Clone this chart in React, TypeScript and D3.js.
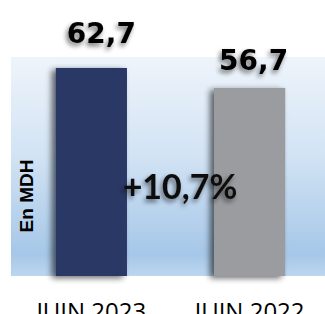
import React from 'react';
import * as d3 from 'd3';

const categories = ['JUIN 2023', 'JUIN 2022'];
const values = [62.7, 56.7];
const valueLabels = ['62,7', '56,7'];
const barColors = ['#2b3966', '#9b9ca0'];
const changeLabel = '+10,7%';
const axisTitle = 'En MDH';

const W = 325, H = 314;
const plotLeft = 11, plotRight = 325, plotTop = 57, plotBottom = 276;
// label nudges relative to bar center / bar top
const labelDx = [10, 4];
const labelGap = [25, 18];

const App = () => {
  const x = d3.scaleBand().domain(categories).range([13, 328]).paddingInner(0.55).paddingOuter(0.27);
  const y = d3.scaleLinear().domain([0, 66]).range([plotBottom, plotTop]);

  return (
    <svg width={W} height={H} style={{ position: 'absolute', left: 0, top: 0 }}>
      <defs>
        <linearGradient id="bg" x1="0" y1="0" x2="0" y2="1">
          <stop offset="0" stopColor="#eef4fb" />
          <stop offset="0.45" stopColor="#d2e3f4" />
          <stop offset="0.9" stopColor="#a6c7e8" />
          <stop offset="1" stopColor="#bcd6ef" />
        </linearGradient>
        <filter id="shadow" x="-30%" y="-30%" width="160%" height="160%">
          <feGaussianBlur in="SourceAlpha" stdDeviation="3" />
          <feOffset dx="-4" dy="2" result="b" />
          <feComponentTransfer><feFuncA type="linear" slope="0.6" /></feComponentTransfer>
          <feMerge><feMergeNode /><feMergeNode in="SourceGraphic" /></feMerge>
        </filter>
        <filter id="tshadow" x="-30%" y="-30%" width="160%" height="160%">
          <feGaussianBlur in="SourceAlpha" stdDeviation="2.5" />
          <feOffset dx="-2" dy="3" />
          <feComponentTransfer><feFuncA type="linear" slope="0.55" /></feComponentTransfer>
          <feMerge><feMergeNode /><feMergeNode in="SourceGraphic" /></feMerge>
        </filter>
      </defs>
      <rect x={plotLeft} y={plotTop} width={plotRight - plotLeft} height={plotBottom - plotTop} fill="url(#bg)" />
      {categories.map((c, i) => (
        <rect key={c} x={x(c)} y={y(values[i])} width={x.bandwidth()} height={y(0) - y(values[i])}
          fill={barColors[i]} filter="url(#shadow)" />
      ))}
      {categories.map((c, i) => (
        <text key={c} x={(x(c) as number) + x.bandwidth() / 2 + labelDx[i]} y={y(values[i]) - labelGap[i]}
          textAnchor="middle" fontFamily="DejaVu Sans" fontWeight={700} fontSize={28}
          fill="#000" filter="url(#tshadow)">{valueLabels[i]}</text>
      ))}
      <text x={180} y={199} textAnchor="middle" fontFamily="Lato" fontWeight={700} fontSize={34}
        fill="#111" filter="url(#tshadow)">{changeLabel}</text>
      <text transform="translate(33,196) rotate(-90)" textAnchor="middle" fontFamily="Liberation Sans"
        fontWeight={700} fontSize={19} fill="#000">{axisTitle}</text>
      {categories.map((c) => (
        <text key={c} x={(x(c) as number) + x.bandwidth() / 2} y={320} textAnchor="middle"
          fontFamily="Open Sans" fontSize={24} fill="#000">{c}</text>
      ))}
    </svg>
  );
};

export default App;
